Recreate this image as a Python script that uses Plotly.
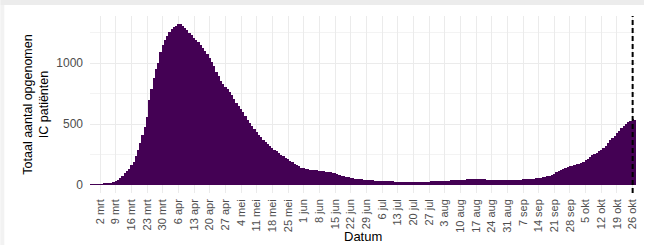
import pandas as pd
import plotly.graph_objects as go

# ---- data (total ICU patients per day) ----
start_date = "2020-02-27"
feb_vals = [1, 2, 3]
mar_vals = [4, 5, 7, 9, 12, 15, 19, 24, 30, 42, 58, 75, 95, 113, 132, 160, 192, 240, 290, 345,
            410, 475, 560, 700, 790, 880, 950, 1000, 1090, 1150, 1190]
apr_vals = [1225, 1255, 1280, 1295, 1305, 1318, 1322, 1305, 1290, 1275, 1250, 1228, 1205, 1190, 1170,
            1150, 1125, 1095, 1075, 1045, 1010, 975, 930, 890, 855, 825, 805, 785, 765, 735]
may_vals = [705, 672, 645, 620, 598, 565, 530, 505, 480, 458, 437, 412, 390, 370, 352, 335, 318, 300,
            285, 275, 262, 248, 236, 224, 212, 200, 188, 176, 165, 152, 143]
jun_vals = [137, 133, 129, 126, 124, 121, 119, 117, 115, 112, 109, 106, 103, 100, 96, 90, 83, 76, 70,
            66, 62, 58, 55, 52, 49, 47, 45, 43, 41, 39]
jul_vals = [38, 37, 36, 35, 34, 33, 32, 31, 30, 29, 29, 28, 28, 27, 27, 26, 27, 27, 26, 26, 25, 24, 23,
            22, 22, 24, 27, 29, 31, 33, 34]
aug_vals = [34, 35, 35, 36, 36, 37, 38, 39, 40, 41, 42, 44, 45, 47, 48, 48, 49, 48, 47, 46, 45, 44, 44,
            43, 42, 42, 41, 41, 40, 41, 41]
sep_vals = [41, 42, 42, 43, 43, 44, 45, 46, 47, 48, 50, 51, 53, 55, 58, 62, 66, 71, 76, 84, 94, 105,
            116, 124, 132, 140, 147, 153, 158, 163]
oct_vals = [170, 176, 182, 190, 203, 215, 232, 248, 258, 266, 275, 286, 300, 318, 345, 368, 385, 405,
            425, 445, 465, 485, 502, 515, 527, 545, 535]

values = feb_vals + mar_vals + apr_vals + may_vals + jun_vals + jul_vals + aug_vals + sep_vals + oct_vals
dates = pd.date_range(start_date, periods=len(values), freq="D")

tick_labels = ["2 mrt", "9 mrt", "16 mrt", "23 mrt", "30 mrt", "6 apr", "13 apr", "20 apr", "27 apr",
               "4 mei", "11 mei", "18 mei", "25 mei", "1 jun", "8 jun", "15 jun", "22 jun", "29 jun",
               "6 jul", "13 jul", "20 jul", "27 jul", "3 aug", "10 aug", "17 aug", "24 aug", "31 aug",
               "7 sep", "14 sep", "21 sep", "28 sep", "5 okt", "12 okt", "19 okt", "26 okt"]
tick_dates = pd.date_range("2020-03-02", periods=len(tick_labels), freq="7D")
marker_date = "2020-10-26"

y_title = "Totaal aantal opgenomen<br>IC patiënten"
x_title = "Datum"

# ---- figure ----
FONT = "Liberation Sans, Arial, sans-serif"
fig = go.Figure()
fig.add_trace(go.Bar(
    x=dates, y=values, width=86400000,
    marker=dict(color="#440154", line=dict(width=0)),
    hoverinfo="x+y",
))

fig.add_shape(type="line", xref="x", yref="paper", x0=marker_date, x1=marker_date, y0=0, y1=1,
              line=dict(color="black", width=2, dash="5px,3px"))

# screenshot frame strips (top & left)
L, T, PW, PH = 90, 16, 548, 177
def px(xp):
    return (xp - L) / PW
def py(yp):
    return 1 - (yp - T) / PH
fig.add_shape(type="rect", xref="paper", yref="paper", x0=px(0), x1=px(646), y0=py(0), y1=py(5),
              fillcolor="#ececec", line=dict(width=0), layer="above")
fig.add_shape(type="rect", xref="paper", yref="paper", x0=px(0), x1=px(4), y0=py(5), y1=py(245),
              fillcolor="#f2f2f2", line=dict(width=0), layer="above")

fig.add_annotation(text=y_title, xref="paper", yref="paper", x=px(35), y=0.5, textangle=-90,
                   showarrow=False, xanchor="center", yanchor="middle",
                   font=dict(family=FONT, size=12.5, color="black"))
fig.add_annotation(text=x_title, xref="paper", yref="paper", x=0.5, y=py(236),
                   showarrow=False, xanchor="center", yanchor="middle",
                   font=dict(family=FONT, size=13, color="black"))

fig.update_layout(
    width=646, height=245,
    margin=dict(l=L, r=646 - L - PW, t=T, b=245 - T - PH),
    paper_bgcolor="white", plot_bgcolor="white",
    bargap=0, showlegend=False,
    font=dict(family=FONT),
)
fig.update_xaxes(
    range=["2020-02-26 12:00", "2020-10-27 12:00"],
    tickvals=tick_dates, ticktext=tick_labels, tickangle=-90,
    tickfont=dict(family=FONT, size=11, color="#4d4d4d"),
    showgrid=True, gridcolor="#ebebeb", gridwidth=1,
    zeroline=False, showline=False, ticks="", ticklabelstandoff=3,
)
fig.update_yaxes(
    range=[-66, 1386], tickvals=[0, 500, 1000],
    tickfont=dict(family=FONT, size=12, color="#4d4d4d"),
    showgrid=True, gridcolor="#ebebeb", gridwidth=1,
    minor=dict(tickvals=[250, 750, 1250], showgrid=True, gridcolor="#f3f3f3", gridwidth=1),
    zeroline=False, showline=False, ticks="", ticklabelstandoff=6,
)

fig.write_html("out.html", config={"displayModeBar": False},
               post_script="document.body.style.margin='0';document.body.style.overflow='hidden';")
